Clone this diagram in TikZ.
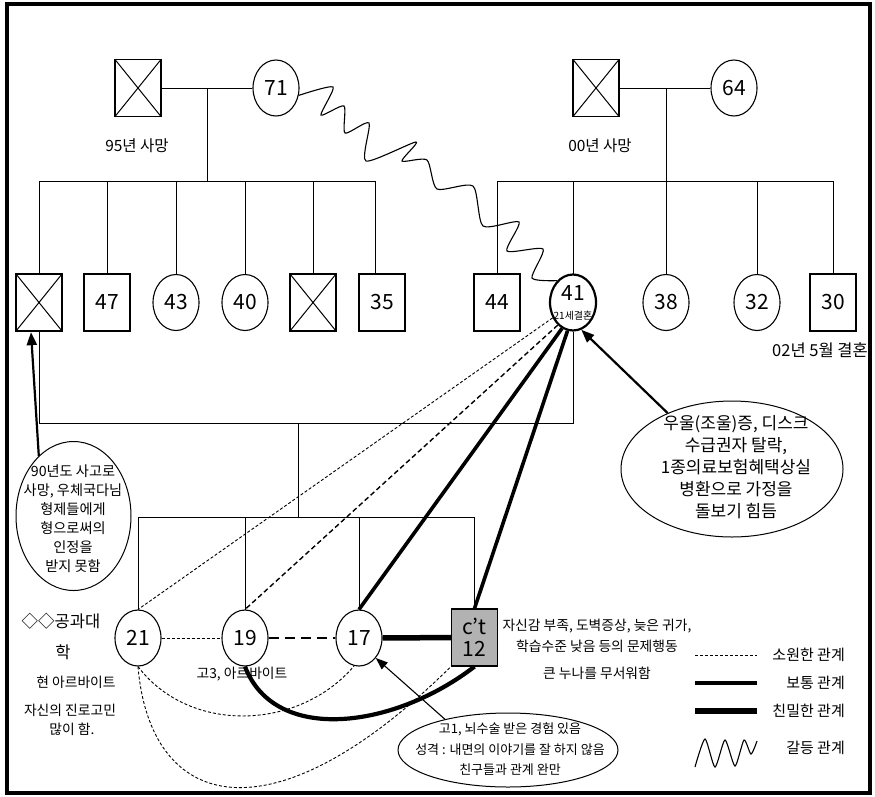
\documentclass[tikz,border=0pt]{standalone}
\usepackage{fontspec}
\setmainfont{Noto Sans CJK KR}
\usetikzlibrary{shapes.geometric,arrows.meta}
\definecolor{ctgray}{RGB}{178,178,178}
\newcommand\szNum{\fontsize{21}{22}\selectfont}
\newcommand\szLab{\fontsize{15.5}{19}\selectfont}
\newcommand\szLabB{\fontsize{16.5}{19}\selectfont}
\newcommand\szSm{\fontsize{13.8}{19}\selectfont}
\newcommand\szEll{\fontsize{14.2}{19}\selectfont}
\newcommand\szLeg{\fontsize{15}{19}\selectfont}
\newcommand\szBig{\fontsize{17}{22}\selectfont}
\newcommand\szNote{\fontsize{13}{20.5}\selectfont}
\newcommand\szTiny{\fontsize{10}{11}\selectfont}
\tikzset{
 person/.style={draw, line width=1.1pt, inner sep=0pt, font=\szNum},
 male/.style={person, rectangle, minimum width=46pt, minimum height=57pt},
 female/.style={person, ellipse, minimum width=46pt, minimum height=56pt},
 deceased/.style={male, path picture={\draw[line width=1pt] (path picture bounding box.north west) -- (path picture bounding box.south east) (path picture bounding box.north east) -- (path picture bounding box.south west);}},
 kin/.style={line width=1pt},
 distant/.style={line width=0.9pt, dash pattern=on 3pt off 2pt},
 distantB/.style={line width=1.4pt, dash pattern=on 5pt off 3pt},
 distantC/.style={line width=2.6pt, dash pattern=on 10pt off 6pt},
 normalrel/.style={line width=3.6pt},
 closerel/.style={line width=5.5pt},
 note/.style={draw, ellipse, line width=1pt, inner sep=0pt},
 pointer/.style={-{Triangle[length=13pt,width=10pt]}, line width=2.2pt},
 thinpointer/.style={-{Triangle[length=12pt,width=9pt]}, line width=1.1pt},
 lbl/.style={inner sep=0pt, align=center},
 conflict/.style={line width=1.1pt},
}
\begin{document}
\begin{tikzpicture}[x=1pt,y=-1pt]
\useasboundingbox (0,0) rectangle (875,796);
\draw[line width=4pt] (7,4) rectangle (870,793);

% grandparents
\node[deceased, line width=1.4pt] (F1) at (138,88) {};
\node[female] (M1) at (276,88) {71};
\node[deceased, line width=1.4pt] (F2) at (596,88) {};
\node[female] (M2) at (734,88) {64};
\draw[kin] (F1) -- (M1);
\draw[kin] (F2) -- (M2);
\node[lbl, font=\szLab] (t95) at (137,146) {95년 사망};
\node[lbl, font=\szLab] (t00) at (600,146) {00년 사망};

% father's siblings
\node[deceased, line width=2.3pt] (C1) at (39,302.5) {};
\node[male] (C2) at (107,302.5) {47};
\node[female] (C3) at (176,302.5) {43};
\node[female] (C4) at (245,302.5) {40};
\node[deceased, line width=1.4pt] (C5) at (313,302.5) {};
\node[male] (C6) at (382,302.5) {35};
\coordinate (u1) at (207,88);
\coordinate (s1) at (207,181);
\coordinate (bl1) at (39,181);
\coordinate (br1) at (375,181);
\draw[kin] (u1) -- (s1);
\draw[kin] (bl1) -- (br1);
\foreach \n/\x in {C1/39,C2/107,C3/176,C4/245,C5/313,C6/375}
  \draw[kin] (\x,181) -- (\x,274);

% mother's siblings
\node[male] (D1) at (497,302.5) {44};
\node[female, line width=2.2pt] (D2) at (573,302.5) {};
\node[lbl, font=\szNum] (d2n) at (573,293) {41};
\node[lbl, font=\szTiny] (t21) at (573,316) {21세결혼};
\node[female] (D3) at (666,302.5) {38};
\node[female] (D4) at (757,302.5) {32};
\node[male] (D5) at (833,302.5) {30};
\node[lbl, font=\szLabB] (t02) at (820,350) {02년 5월 결혼};
\coordinate (u2) at (666,88);
\coordinate (s2) at (666,181);
\coordinate (bl2) at (497,181);
\coordinate (br2) at (833,181);
\draw[kin] (u2) -- (s2);
\draw[kin] (bl2) -- (br2);
\foreach \x in {497,573,666,757,833}
  \draw[kin] (\x,181) -- (\x,274);

% parents' marriage
\coordinate (ml) at (39,423);
\draw[kin] (C1.south) -- (ml) -| (D2.south);
\coordinate (u3) at (298,423);
\coordinate (s3) at (298,517);
\coordinate (bl3) at (138,517);
\coordinate (br3) at (474.5,517);
\draw[kin] (u3) -- (s3);
\draw[kin] (bl3) -- (br3);

% children
\node[female] (G1) at (138,638) {21};
\node[female] (G2) at (245,638) {19};
\node[female] (G3) at (359,638) {17};
\node[male, fill=ctgray, align=center] (G4) at (474.5,637.5) {c’t\\12};
\foreach \x in {138,245,359,474.5}
  \draw[kin] (\x,517) -- (\x,610);

% conflict wave
\draw[conflict] plot[smooth, tension=0.4] coordinates {(M1.342) (333,87) (321,115) (344,106) (345,133) (369,123) (366,161) (416,142) (402,161) (427,160) (437,189) (473,186) (483,226) (519,222) (507,251) (543,249) (532,278) (D2.126)};

% relationships
\draw[distant] (D2.217) -- (G1.north);
\draw[distantB] (D2.236) -- (G2.north);
\draw[normalrel] (D2.247) -- (G3.north);
\draw[normalrel] (D2.259) -- (G4.north);
\draw[distant] (G1) -- (G2);
\draw[distantC] (G2) -- (G3);
\draw[closerel] (G3) -- (G4);
\draw[line width=4.2pt] (G2.south) .. controls (275,745) and (395,728) .. (G4.south);
\draw[distant] (G1.south) .. controls (190,735) and (300,730) .. (G3.260);
\draw[distant] (G1.south) .. controls (150,810) and (270,845) .. (G4.south west);

% notes
\node[note, minimum width=115pt, minimum height=149pt] (E1) at (73.5,516) {};
\node[lbl, font=\szEll] (E1t) at (73,519) {90년도 사고로\\사망, 우체국다님\\형제들에게\\형으로써의\\인정을\\받지 못함};
\draw[pointer] (E1.120) -- ([xshift=-8pt]C1.south);

\node[note, minimum width=222pt, minimum height=136pt] (E2) at (732,469) {};
\node[lbl, font=\szBig] (E2t) at (736,467) {우울(조울)증, 디스크\\수급권자 탈락,\\1종의료보험혜택상실\\병환으로 가정을\\돌보기 힘듬};
\draw[pointer] (E2.139) -- (D2.287);

\node[note, minimum width=220pt, minimum height=74pt] (E3) at (508,750) {};
\node[lbl, font=\szNote] (E3t) at (510,749.5) {고1, 뇌수술 받은 경험 있음\\성격 : 내면의 이야기를 잘 하지 않음\\친구들과 관계 완만};
\draw[thinpointer] (E3.154) -- (G3.310);

% side labels
\node[lbl, font=\szLabB] (la) at (61,621) {◇◇공과대};
\node[lbl, font=\szLabB] (lb) at (63,652) {학};
\node[lbl, font=\szSm] (lc) at (76,682) {현 아르바이트};
\node[lbl, font=\szSm] (ld) at (70,710) {자신의 진로고민};
\node[lbl, font=\szSm] (le) at (72,729) {많이 함.};
\node[lbl, font=\szSm] (lf) at (242,674) {고3, 아르바이트};
\node[lbl, font=\szSm] (lg) at (597,626) {자신감 부족, 도벽증상, 늦은 귀가,};
\node[lbl, font=\szSm] (lh) at (597,646) {학습수준 낮음 등의 문제행동};
\node[lbl, font=\szSm] (li) at (597,673) {큰 누나를 무서워함};

% legend
\coordinate (k1a) at (695,655); \coordinate (k1b) at (757,655);
\coordinate (k2a) at (695,683); \coordinate (k2b) at (757,683);
\coordinate (k3a) at (695,711); \coordinate (k3b) at (757,711);
\draw[distant] (k1a) -- (k1b);
\draw[normalrel] (k2a) -- (k2b);
\draw[line width=6.5pt] (k3a) -- (k3b);
\draw[conflict] plot[smooth, tension=0.4] coordinates {(695,767) (705,739) (715,767) (725,740) (735,766) (744,740) (751,754) (757,741)};
\node[lbl, font=\szLeg, anchor=east] (k1) at (845,655) {소원한 관계};
\node[lbl, font=\szLeg, anchor=east] (k2) at (845,683) {보통 관계};
\node[lbl, font=\szLeg, anchor=east] (k3) at (845,711) {친밀한 관계};
\node[lbl, font=\szLeg, anchor=east] (k4) at (845,748) {갈등 관계};
\end{tikzpicture}
\end{document}
